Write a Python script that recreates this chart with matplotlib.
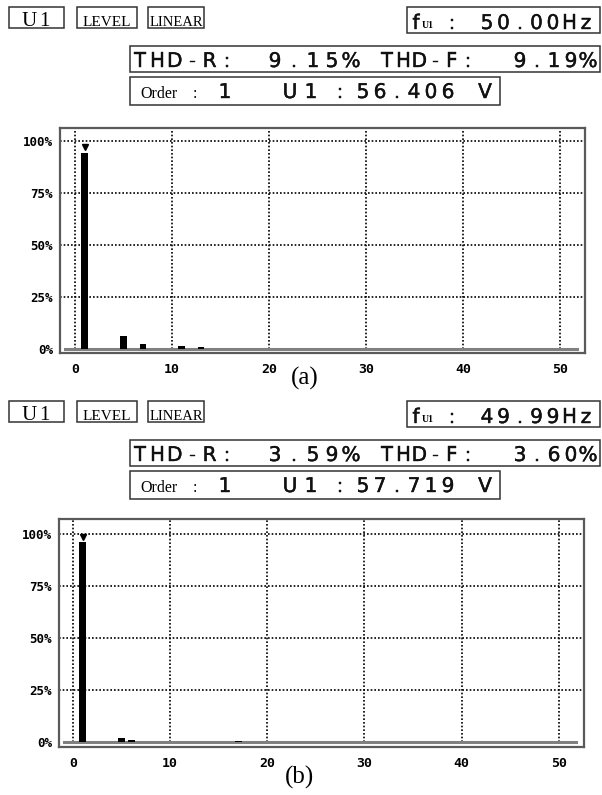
"""Harmonic spectrum screens of the power analyser, before (a) and after (b)."""

from matplotlib import pyplot
from matplotlib import patheffects
from matplotlib.patches import Rectangle

orders_a = [1, 5, 7, 11, 13]
levels_a = [94.0, 6.5, 2.6, 1.3, 1.0]
orders_b = [1, 5, 6, 17]
levels_b = [96.0, 1.8, 0.8, 0.7]
cursor_a = 97.0  # level of the cursor mark on order 1
cursor_b = 98.5

# Readings printed in the header of each screen.
freq_a, thd_r_a, thd_f_a, volt_a = '50.00Hz', '9.15%', '9.19%', '56.406'
freq_b, thd_r_b, thd_f_b, volt_b = '49.99Hz', '3.59%', '3.60%', '57.719'
cursor_order = '1'

xticks = [0, 10, 20, 30, 40, 50]
yticks = [0, 25, 50, 75, 100]
ytick_labels = ['0%', '25%', '50%', '75%', '100%']

W, H = 602, 795
fig = pyplot.figure(figsize=(W / 100, H / 100), dpi=100)

# Overlay in pixel units (origin top-left) for header boxes and captions.
ov = fig.add_axes([0, 0, 1, 1], zorder=5)
ov.set_xlim(0, W)
ov.set_ylim(H, 0)
ov.axis('off')
ov.patch.set_alpha(0)

lcd_font = 'DejaVu Sans'
serif_font = 'Liberation Serif'
thick = [patheffects.withStroke(linewidth=0.3, foreground='#111111')]


def box(x0, y0, x1, y1):
    ov.add_patch(Rectangle((x0, y0), x1 - x0, y1 - y0, fill=False,
                           edgecolor='#333333', linewidth=1.1))


def lcd(s, x, y, pitch, size=14.5):
    """Write a string one character per cell, like the analyser screen."""
    for i, c in enumerate(s):
        ov.text(x + i * pitch, y, c, ha='center', va='baseline',
                fontsize=size, family=lcd_font, color='#111111',
                path_effects=thick)


def header(dy, freq, thd_r, thd_f, volt):
    # mode buttons
    box(9, 7 + dy, 64, 28 + dy)
    ov.text(29, 26 + dy, 'U', ha='center', va='baseline', fontsize=15,
            family=serif_font)
    ov.text(44, 26 + dy, '1', ha='center', va='baseline', fontsize=15,
            family=serif_font)
    box(77, 7 + dy, 137, 28 + dy)
    ov.text(107, 26 + dy, 'LEVEL', ha='center', va='baseline',
            fontsize=11, family=serif_font)
    box(148, 7 + dy, 204, 28 + dy)
    ov.text(176, 26 + dy, 'LINEAR', ha='center', va='baseline',
            fontsize=10.5, family=serif_font)
    # fundamental frequency
    box(407, 7 + dy, 600, 33 + dy)
    lcd('f', 416, 29 + dy, 0)
    ov.text(428, 28 + dy, 'U1', ha='center', va='baseline', fontsize=7,
            family=serif_font, weight='bold')
    lcd(':', 452, 29 + dy, 0)
    lcd(freq, 487, 29 + dy, 16.5)
    # distortion
    box(130, 46 + dy, 600, 72 + dy)
    lcd('THD-R:', 140, 67 + dy, 17.4)
    lcd(thd_r, 275, 67 + dy, 19.0)
    lcd('THD-F:', 387, 67 + dy, 16.2)
    lcd(thd_f, 520, 67 + dy, 17.0)
    # cursor reading
    box(130, 77 + dy, 500, 105 + dy)
    ov.text(140, 98 + dy, 'Order', ha='left', va='baseline', fontsize=11.5,
            family=serif_font)
    ov.text(195, 98 + dy, ':', ha='center', va='baseline', fontsize=11.5,
            family=serif_font)
    lcd(cursor_order, 225, 98 + dy, 0)
    lcd('U1', 290, 98 + dy, 21)
    lcd(':', 340, 98 + dy, 0)
    lcd(volt, 363, 98 + dy, 17)
    lcd('V', 485, 98 + dy, 0)


def panel(left, top, right, bottom, xlim, ylim, orders, levels, cursor):
    ax = fig.add_axes([left / W, 1 - bottom / H, (right - left) / W,
                       (bottom - top) / H])
    ax.set_xlim(*xlim)
    ax.set_ylim(*ylim)
    ax.vlines(xticks, 0, ylim[1], colors='black', linewidth=1.2,
              linestyles=(0, (1, 1.2)), zorder=1)
    ax.hlines(yticks[1:], xlim[0], xlim[1], colors='black', linewidth=1.2,
              linestyles=(0, (1, 1.2)), zorder=1)
    ax.axhline(0, xmin=0.01, xmax=0.985, color='#808080', linewidth=2.2,
               zorder=2)
    ax.bar(orders, levels, width=0.7, color='black', zorder=3)
    ax.plot(orders[0], cursor, marker='v', color='black', markersize=5,
            zorder=4)
    ax.set_xticks(xticks)
    ax.set_xticklabels([str(t) for t in xticks], family='DejaVu Sans Mono',
                       weight='bold', fontsize=9.5)
    ax.set_yticks(yticks)
    ax.set_yticklabels(ytick_labels, family='DejaVu Sans Mono',
                       weight='bold', fontsize=9)
    ax.tick_params(length=0)
    ax.tick_params(axis='x', pad=7)
    ax.tick_params(axis='y', pad=5)
    for spine in ax.spines.values():
        spine.set_color('#5a5a5a')
        spine.set_linewidth(1.6)
    return ax


header(0, freq_a, thd_r_a, thd_f_a, volt_a)
panel(60, 128, 585, 353, (-1.55, 52.6), (-1.9, 106.2),
      orders_a, levels_a, cursor_a)
ov.text(305, 385, '(a)', ha='center', va='baseline', fontsize=18,
        family=serif_font)

header(394, freq_b, thd_r_b, thd_f_b, volt_b)
panel(59, 519, 584, 747, (-1.45, 52.6), (-2.4, 107.2),
      orders_b, levels_b, cursor_b)
ov.text(300, 784, '(b)', ha='center', va='baseline', fontsize=18,
        family=serif_font)

fig.savefig('out.png', dpi=100)
